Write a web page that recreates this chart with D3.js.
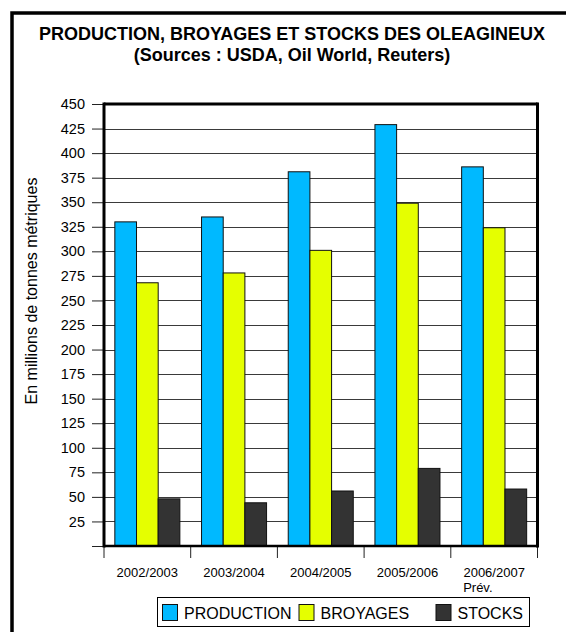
<!DOCTYPE html>
<html><head><meta charset="utf-8">
<script src="https://cdn.jsdelivr.net/npm/d3@7"></script>
<style>html,body{margin:0;padding:0;background:#fff;}svg{display:block;font-family:"Liberation Sans",Arial,sans-serif;}</style>
</head><body>
<script>
const categories = ["2002/2003","2003/2004","2004/2005","2005/2006","2006/2007"];
const categorySub = ["","","","","Prév."];
const seriesNames = ["PRODUCTION","BROYAGES","STOCKS"];
const production = [330,335,381,429,386];
const broyages = [268,278,301,349,324];
const stocks = [48,44,56,79,58];
const yTicks = [0,25,50,75,100,125,150,175,200,225,250,275,300,325,350,375,400,425,450];
const colors = ["#00B9FF","#E5FF00","#333333"];
const seriesValues = [production, broyages, stocks];

const W=566,H=632;
const svg=d3.select("body").append("svg").attr("width",W).attr("height",H);
svg.append("rect").attr("x",0).attr("y",0).attr("width",W).attr("height",H).attr("fill","#fff");
// outer frame
svg.append("rect").attr("x",12).attr("y",13).attr("width",700).attr("height",800)
  .attr("fill","none").attr("stroke","#000").attr("stroke-width",3.5);

svg.append("text").attr("x",292).attr("y",40).attr("text-anchor","middle")
  .attr("font-size",18).attr("font-weight","bold").text("PRODUCTION, BROYAGES ET STOCKS DES OLEAGINEUX");
svg.append("text").attr("x",292).attr("y",61).attr("text-anchor","middle")
  .attr("font-size",18).attr("font-weight","bold").text("(Sources : USDA, Oil World, Reuters)");

const L=104,R=537.5,T=104,B=546;
const y=d3.scaleLinear().domain([0,450]).range([B,T]);
const x=d3.scaleBand().domain(categories).range([L,R]).padding(0);
const bw=x.bandwidth();
const x1=d3.scaleBand().domain(seriesNames).range([bw*0.125,bw*0.875]).padding(0);

// gridlines
svg.append("g").selectAll("line").data(yTicks.filter(d=>d>0 && d<450)).join("line")
  .attr("x1",L).attr("x2",R).attr("y1",d=>Math.round(y(d))+0.5).attr("y2",d=>Math.round(y(d))+0.5)
  .attr("stroke","#3a3a3a").attr("stroke-width",1);

// bars
const groups=svg.append("g").selectAll("g").data(categories).join("g")
  .attr("transform",d=>`translate(${x(d)},0)`);
groups.selectAll("rect").data((d,i)=>seriesNames.map((s,j)=>({s,v:seriesValues[j][i],c:colors[j]}))).join("rect")
  .attr("x",d=>x1(d.s)).attr("width",x1.bandwidth())
  .attr("y",d=>y(d.v)).attr("height",d=>B-y(d.v))
  .attr("fill",d=>d.c).attr("stroke","#111").attr("stroke-width",1);

// y axis
const yAxis=d3.axisLeft(y).tickValues(yTicks).tickSize(12).tickPadding(7).tickFormat(d=>d===0?"":d);
const gy=svg.append("g").attr("transform",`translate(${L},0)`).call(yAxis);
gy.select(".domain").remove();
gy.selectAll(".tick line").attr("stroke","#222");
gy.selectAll(".tick text").attr("font-size",14.5).attr("fill","#000").attr("font-family","Liberation Sans, Arial, sans-serif");

// x axis ticks at boundaries
const xb=categories.map(c=>x(c)).concat([R]);
svg.append("g").selectAll("line").data(xb).join("line")
  .attr("x1",d=>d).attr("x2",d=>d).attr("y1",B).attr("y2",B+12).attr("stroke","#222").attr("stroke-width",1);

// frame of plot
svg.append("line").attr("x1",L).attr("x2",R).attr("y1",T).attr("y2",T).attr("stroke","#000").attr("stroke-width",3);
svg.append("line").attr("x1",R).attr("x2",R).attr("y1",T-1.5).attr("y2",B+1.5).attr("stroke","#000").attr("stroke-width",3);
svg.append("line").attr("x1",L).attr("x2",R).attr("y1",B).attr("y2",B).attr("stroke","#000").attr("stroke-width",2.5);
svg.append("line").attr("x1",L).attr("x2",L).attr("y1",T-1.5).attr("y2",B+1.5).attr("stroke","#000").attr("stroke-width",3);

// x labels
const xl=svg.append("g").selectAll("g").data(categories).join("g");
xl.append("text").attr("x",d=>x(d)+bw/2).attr("y",577).attr("text-anchor","middle")
  .attr("font-size",13).text(d=>d);
xl.append("text").attr("x",d=>x(d)+bw/2-31).attr("y",592).attr("text-anchor","start")
  .attr("font-size",13).text((d,i)=>categorySub[i]);

// y label
svg.append("text").attr("transform","translate(36.5,291) rotate(-90)").attr("text-anchor","middle")
  .attr("font-size",16).text("En millions de tonnes métriques");

// legend
svg.append("rect").attr("x",157.5).attr("y",597.5).attr("width",372).attr("height",29)
  .attr("fill","#fff").attr("stroke","#000").attr("stroke-width",1);
const legX=[162,298.5,435.5];
const lg=svg.append("g").selectAll("g").data(seriesNames).join("g")
  .attr("transform",(d,i)=>`translate(${legX[i]},604)`);
lg.append("rect").attr("x",0.5).attr("y",0.5).attr("width",15).attr("height",16)
  .attr("fill",(d,i)=>colors[i]).attr("stroke","#111");
lg.append("text").attr("x",22).attr("y",14.5).attr("font-size",16).text(d=>d);
</script>
</body></html>
